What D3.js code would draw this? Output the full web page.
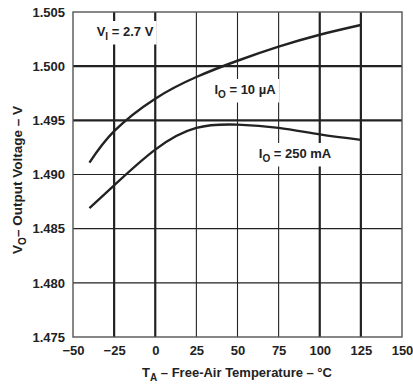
<!DOCTYPE html>
<html>
<head>
<meta charset="utf-8">
<script src="https://cdn.jsdelivr.net/npm/d3@7"></script>
<style>
  html, body { margin: 0; padding: 0; background: #fff; }
  svg { display: block; font-family: "Liberation Sans", Arial, sans-serif; }
</style>
</head>
<body>
<svg id="chart" width="413" height="385"></svg>
<script>
// Temperature sweep (°C) and output voltage (V) for two load currents
const temps = [-40, -25, 0, 25, 50, 75, 100, 125];
const vout10uA = [1.4911, 1.4940, 1.4970, 1.4990, 1.5005, 1.5018, 1.5029, 1.5038];
const vout250mA = [1.4869, 1.4890, 1.4923, 1.4943, 1.4946, 1.4943, 1.4937, 1.4932];

const xTicks = [-50, -25, 0, 25, 50, 75, 100, 125, 150];
const yTicks = [1.475, 1.480, 1.485, 1.490, 1.495, 1.500, 1.505];
const heavyX = [-25, 0, 100, 125];
const heavyY = [1.495, 1.500];

const svg = d3.select("#chart");
const plotL = 73, plotR = 402, plotT = 12, plotB = 337;

const x = d3.scaleLinear().domain([-50, 150]).range([plotL, plotR]);
const y = d3.scaleLinear().domain([1.475, 1.505]).range([plotB, plotT]);

const ink = "#222";

// grid
const grid = svg.append("g");
xTicks.slice(1, -1).forEach(t => {
  grid.append("line")
    .attr("x1", x(t)).attr("x2", x(t)).attr("y1", plotT).attr("y2", plotB)
    .attr("stroke", ink).attr("stroke-width", heavyX.includes(t) ? 2.2 : 1.1);
});
yTicks.slice(1, -1).forEach(t => {
  grid.append("line")
    .attr("x1", plotL).attr("x2", plotR).attr("y1", y(t)).attr("y2", y(t))
    .attr("stroke", ink).attr("stroke-width", heavyY.includes(t) ? 2.2 : 1.1);
});

// frame
svg.append("rect")
  .attr("x", plotL).attr("y", plotT).attr("width", plotR - plotL).attr("height", plotB - plotT)
  .attr("fill", "none").attr("stroke", "#555").attr("stroke-width", 1.4);

// axes (tick labels only)
const xAxis = d3.axisBottom(x).tickValues(xTicks).tickSize(0).tickPadding(9)
  .tickFormat(d => d < 0 ? "\u2212" + Math.abs(d) : d);
svg.append("g").attr("transform", `translate(0,${plotB})`).call(xAxis)
  .call(g => g.select(".domain").remove())
  .selectAll("text").attr("font-size", 13).attr("font-weight", "bold")
  .attr("fill", ink).attr("font-family", "Liberation Sans, Arial, sans-serif");

const yAxis = d3.axisLeft(y).tickValues(yTicks).tickSize(0).tickPadding(8)
  .tickFormat(d3.format(".3f"));
svg.append("g").attr("transform", `translate(${plotL},0)`).call(yAxis)
  .call(g => g.select(".domain").remove())
  .selectAll("text").attr("font-size", 13).attr("font-weight", "bold")
  .attr("fill", ink).attr("font-family", "Liberation Sans, Arial, sans-serif");

// curves
const line = d3.line().x((d, i) => x(temps[i])).y(d => y(d)).curve(d3.curveNatural);
[vout10uA, vout250mA].forEach(s => {
  svg.append("path").attr("d", line(s))
    .attr("fill", "none").attr("stroke", ink).attr("stroke-width", 2.4);
});

// annotation with white backing that breaks the grid
function note(cx, cy, main, sub, rest) {
  const g = svg.append("g");
  const t = g.append("text").attr("x", cx).attr("y", cy)
    .attr("text-anchor", "middle").attr("font-size", 13).attr("font-weight", "bold")
    .attr("fill", ink);
  t.append("tspan").text(main);
  t.append("tspan").attr("dy", 3.5).attr("font-size", 10).text(sub);
  t.append("tspan").attr("dy", -3.5).text(rest);
  const b = t.node().getBBox();
  g.insert("rect", "text").attr("x", b.x - 3).attr("y", b.y - 3)
    .attr("width", b.width + 6).attr("height", b.height + 6).attr("fill", "#fff");
}
note(125, 36, "V", "I", " = 2.7 V");
note(245, 94, "I", "O", " = 10 \u00b5A");
note(295, 158, "I", "O", " = 250 mA");

// axis titles
const xt = svg.append("text").attr("x", 237).attr("y", 377).attr("text-anchor", "middle")
  .attr("font-size", 13).attr("font-weight", "bold").attr("fill", ink);
xt.append("tspan").text("T");
xt.append("tspan").attr("dy", 3.5).attr("font-size", 10).text("A");
xt.append("tspan").attr("dy", -3.5).text(" \u2013 Free-Air Temperature \u2013 \u00b0C");

const yt = svg.append("text").attr("transform", "translate(22,180) rotate(-90)")
  .attr("text-anchor", "middle")
  .attr("font-size", 13.5).attr("font-weight", "bold").attr("fill", ink);
yt.append("tspan").text("V");
yt.append("tspan").attr("dy", 3.5).attr("font-size", 10).text("O");
yt.append("tspan").attr("dy", -3.5).text("\u2013 Output Voltage \u2013 V");
</script>
</body>
</html>
